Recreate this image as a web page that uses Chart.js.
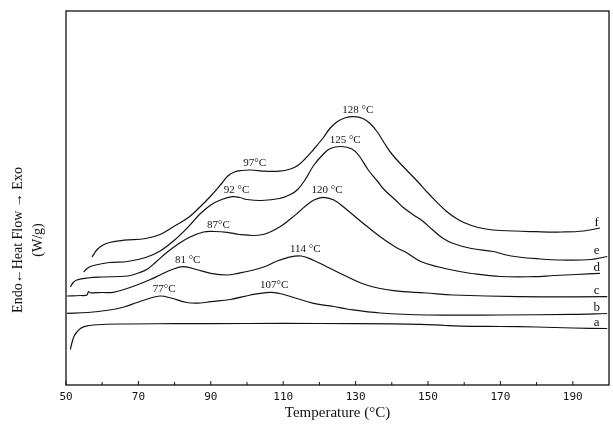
<!DOCTYPE html>
<html>
<head>
<meta charset="utf-8">
<script src="https://cdn.jsdelivr.net/npm/chart.js@4.4.1/dist/chart.umd.min.js"></script>
<style>
  html, body { margin: 0; padding: 0; background: #fff; }
  #wrap { width: 613px; height: 430px; }
</style>
</head>
<body>
<div id="wrap"><canvas id="dsc"></canvas></div>
<script>
// ── DSC traces: [temperature °C, heat flow (arbitrary W/g offset units)]
const curveA = [[51.2,3.55],[51.7,4.3],[52.2,4.85],[53,5.3],[54,5.65],[55.5,5.88],[57.6,6.0],[65,6.1],[80,6.13],[100,6.15],[120,6.15],[140,6.12],[148,6.07],[155,5.95],[162,5.87],[170,5.85],[180,5.8],[190,5.7],[199.5,5.65]];
const curveB = [[50.3,7.17],[56,7.25],[62,7.5],[66,7.8],[69.6,8.25],[73,8.65],[76,8.9],[79,8.7],[83.4,8.25],[87,8.2],[90,8.33],[95.4,8.55],[101,9.0],[106.4,9.27],[109,9.15],[112,8.85],[118.4,8.17],[124,7.85],[127.6,7.6],[136.8,7.2],[150,7.0],[170,7.0],[190,7.07],[199.5,7.15]];
const curveC = [[50.3,8.9],[54,8.95],[55.8,9.0],[56.2,9.33],[56.8,9.22],[60,9.25],[63,9.27],[66,9.55],[69.6,10.0],[73,10.5],[76,11.0],[79,11.5],[82.5,11.83],[86,11.55],[90,11.17],[94.5,11.0],[97.5,11.17],[101.8,11.5],[105,11.85],[108,12.35],[111,12.72],[115,12.9],[118.5,12.45],[122,11.83],[126.7,11.0],[133,10.0],[140.5,9.43],[149.5,9.2],[157,9.0],[175,8.83],[199.5,8.83]];
const curveD = [[51.2,9.8],[52,10.25],[53,10.5],[56,10.7],[60,10.8],[67,10.9],[70,11.2],[72.5,11.6],[75,12.35],[78,13.3],[81,14.1],[84,14.75],[88,15.3],[91,15.35],[94.5,15.27],[98,15.05],[102,14.95],[105,15.1],[109,15.8],[112,16.6],[114,17.2],[116,17.85],[118.5,18.5],[121,18.77],[124,18.5],[127.5,17.55],[132,16.2],[136.5,14.9],[141,13.8],[144,13.25],[148,12.35],[153,11.8],[158,11.4],[162,11.15],[170,10.85],[179,10.83],[185,10.95],[191,11.05],[197.5,11.17]];
const curveE = [[54.9,11.3],[56,11.7],[57.6,11.95],[62,12.25],[67,12.35],[72,12.75],[76,13.4],[80,14.5],[84,15.9],[87,17.1],[90,18.0],[93,18.55],[96,18.83],[98,18.75],[100,18.55],[104,18.45],[109,18.65],[112,19.05],[114,19.55],[116,20.5],[118.5,22.0],[121,23.05],[123,23.65],[126,23.85],[129,23.6],[131,22.9],[133.5,21.5],[136,20.4],[138,19.5],[141,18.5],[143,17.8],[146,17.0],[148.5,16.4],[151,15.6],[154,14.7],[157,14.15],[162,13.65],[168,13.35],[171,13.05],[175,12.8],[180,12.63],[187,12.5],[195,12.55],[199.5,12.85]];
const curveF = [[57.2,12.8],[58.5,13.5],[60,13.95],[62,14.25],[66,14.48],[72,14.65],[76,15.05],[80,15.9],[84,16.8],[87,17.8],[90,18.9],[93,20.15],[94.7,20.9],[96.5,21.3],[98.5,21.45],[101,21.5],[105,21.38],[109,21.38],[112,21.6],[114,21.95],[116,22.6],[118.5,23.6],[121,24.7],[123,25.7],[125,26.35],[127,26.7],[129.5,26.83],[132,26.65],[134,26.15],[136,25.3],[138,24.15],[140,23.1],[143,21.9],[147,20.4],[150,19.2],[155,17.4],[158.5,16.5],[162,15.95],[166,15.6],[170,15.45],[180,15.33],[187,15.3],[193,15.4],[197.5,15.7]];

const curveNames = ['a', 'b', 'c', 'd', 'e', 'f'];
const curves = [curveA, curveB, curveC, curveD, curveE, curveF];

// peak annotations: text, curve index, printed temperature
const peakTexts  = ['77°C', '107°C', '81 °C', '114 °C', '87°C', '120 °C', '92 °C', '125 °C', '97°C', '128 °C'];
const peakCurve  = [1, 1, 2, 2, 3, 3, 4, 4, 5, 5];
const peakTemps  = [77, 107, 81, 114, 87, 120, 92, 125, 97, 128];

const xTicks      = [50, 60, 70, 80, 90, 100, 110, 120, 130, 140, 150, 160, 170, 180, 190];
const xTickLabels = [50, 70, 90, 110, 130, 150, 170, 190];

const xTitle = 'Temperature (°C)';
const yTitle = ['Endo←Heat Flow → Exo', '(W/g)'];

const INK = '#111';
const SERIF = "'Liberation Serif', 'DejaVu Serif', serif";

// ── PLUGINS ──
const frame = {
  id: 'frame',
  afterDraw(chart) {
    const { ctx, chartArea: a, scales } = chart;
    ctx.save();
    ctx.strokeStyle = INK;
    ctx.lineWidth = 1.3;
    ctx.strokeRect(a.left, a.top, a.right - a.left, a.bottom - a.top);
    // inward tick marks on the temperature axis
    ctx.lineWidth = 1;
    xTicks.forEach(v => {
      const x = scales.x.getPixelForValue(v);
      const len = xTickLabels.includes(v) ? 4 : 3;
      ctx.beginPath();
      ctx.moveTo(x, a.bottom);
      ctx.lineTo(x, a.bottom - len);
      ctx.stroke();
    });
    ctx.restore();
  }
};

const annotations = {
  id: 'annotations',
  afterDatasetsDraw(chart) {
    const { ctx, scales: { x, y } } = chart;
    ctx.save();
    ctx.fillStyle = INK;

    // peak temperatures above each maximum
    ctx.font = `11px ${SERIF}`;
    ctx.textAlign = 'center';
    ctx.textBaseline = 'alphabetic';
    peakTexts.forEach((txt, i) => {
      const pts = curves[peakCurve[i]].filter(p => Math.abs(p[0] - peakTemps[i]) <= 5);
      const top = pts.reduce((m, p) => (p[1] > m[1] ? p : m), pts[0]);
      ctx.fillText(txt, x.getPixelForValue(top[0]) + 4, y.getPixelForValue(top[1]) - 4);
    });

    // curve letters at the right end
    ctx.font = `13px ${SERIF}`;
    curves.forEach((c, i) => {
      const last = c[c.length - 1];
      ctx.fillText(curveNames[i], x.getPixelForValue(196.6), y.getPixelForValue(last[1]) - 2.5);
    });

    // rotated y title
    const a = chart.chartArea;
    const cy = (a.top + a.bottom) / 2 + 42;
    ctx.font = `14px ${SERIF}`;
    ctx.textBaseline = 'middle';
    yTitle.forEach((line, k) => {
      ctx.save();
      ctx.translate(a.left - 48 + k * 20, cy);
      ctx.rotate(-Math.PI / 2);
      ctx.fillText(line, 0, 0);
      ctx.restore();
    });
    ctx.restore();
  }
};

// ── CHART ──
new Chart(document.getElementById('dsc'), {
  type: 'line',
  data: {
    datasets: curves.map((c, i) => ({
      label: curveNames[i],
      data: c.map(p => ({ x: p[0], y: p[1] })),
      borderColor: INK,
      borderWidth: 1.2,
      pointRadius: 0,
      fill: false,
      tension: 0.4
    }))
  },
  options: {
    animation: false,
    responsive: true,
    maintainAspectRatio: false,
    layout: { padding: { left: 66, right: 4, top: 11, bottom: 0 } },
    plugins: { legend: { display: false }, tooltip: { enabled: false } },
    scales: {
      x: {
        type: 'linear',
        min: 50,
        max: 200,
        afterBuildTicks: s => { s.ticks = xTicks.map(v => ({ value: v })); },
        afterFit: s => { s.height = 45; },
        grid: { display: false, drawTicks: false },
        border: { display: false },
        ticks: {
          autoSkip: false,
          maxRotation: 0,
          padding: 6,
          color: INK,
          font: { family: "'DejaVu Sans Mono', monospace", size: 11 },
          callback: v => (xTickLabels.includes(v) ? String(v) : '')
        },
        title: {
          display: true,
          text: xTitle,
          color: INK,
          font: { family: SERIF, size: 15 },
          padding: { top: 0, bottom: 8 }
        }
      },
      y: {
        display: false,
        min: 0,
        max: 37.4
      }
    }
  },
  plugins: [frame, annotations]
});
</script>
</body>
</html>
